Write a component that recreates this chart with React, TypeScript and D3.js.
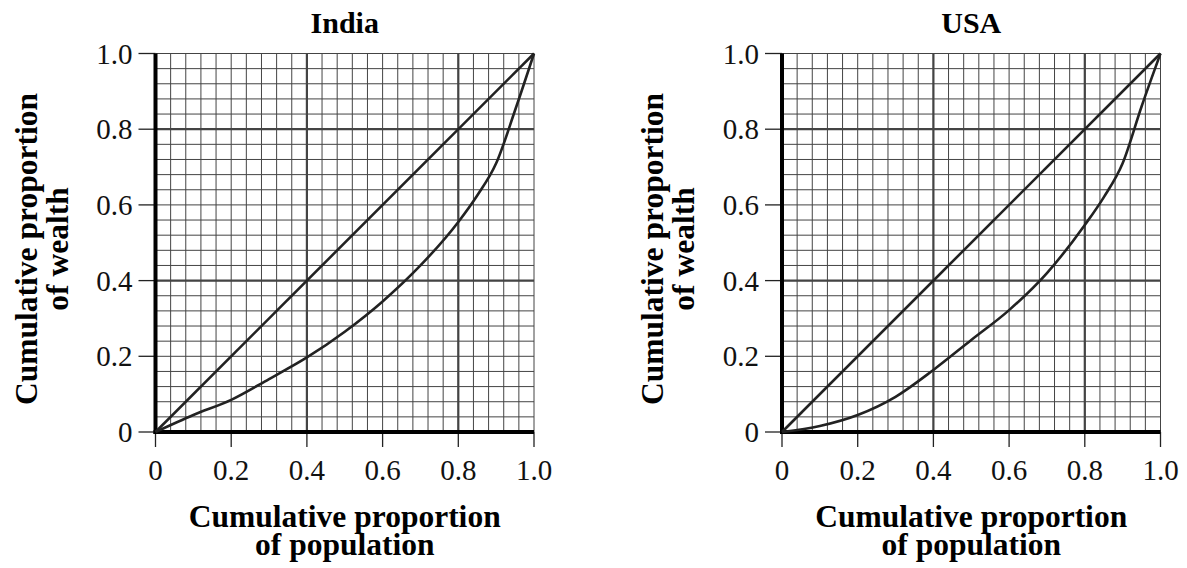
import React from "react";
import * as d3 from "d3";

const population = [0, 0.1, 0.2, 0.3, 0.4, 0.5, 0.6, 0.7, 0.8, 0.85, 0.9, 0.95, 1.0];
const indiaWealth = [0, 0.045, 0.085, 0.14, 0.197, 0.265, 0.345, 0.44, 0.555, 0.625, 0.71, 0.85, 1.0];
const usaWealth = [0, 0.016, 0.045, 0.093, 0.164, 0.243, 0.322, 0.42, 0.547, 0.62, 0.71, 0.86, 1.0];
const equality = [0, 1];
const tickValues = [0, 0.2, 0.4, 0.6, 0.8, 1.0];
const tickLabels = ["0", "0.2", "0.4", "0.6", "0.8", "1.0"];
const panels = [
  { title: "India", wealth: indiaWealth },
  { title: "USA", wealth: usaWealth },
];

const W = 1187;
const H = 568;
const FONT = '"Liberation Serif", "Times New Roman", Times, "DejaVu Serif", serif';
const fontStyle = { fontFamily: FONT };

function Panel({ title, wealth, left }: { title: string; wealth: number[]; left: number }) {
  const size = 378.5;
  const x = d3.scaleLinear().domain([0, 1]).range([left, left + size]);
  const y = d3.scaleLinear().domain([0, 1]).range([432, 432 - size]);
  const minor = d3.range(0, 26).map((i) => i / 25);
  const major = [0.4, 0.8];
  const line = d3
    .line<[number, number]>()
    .x((d) => x(d[0]))
    .y((d) => y(d[1]))
    .curve(d3.curveMonotoneX);
  const pts: [number, number][] = population.map((p, i) => [p, wealth[i]]);
  const eq: [number, number][] = equality.map((v) => [v, v]);
  const cx = (x(0) + x(1)) / 2;
  const cy = 249;
  return (
    <g style={fontStyle}>
      {minor.map((v, i) => (
        <g key={"m" + i}>
          <line x1={x(v)} x2={x(v)} y1={y(0)} y2={y(1)} stroke="#444" strokeWidth={1} />
          <line x1={x(0)} x2={x(1)} y1={y(v)} y2={y(v)} stroke="#444" strokeWidth={1} />
        </g>
      ))}
      {major.map((v, i) => (
        <g key={"M" + i}>
          <line x1={x(v)} x2={x(v)} y1={y(0)} y2={y(1)} stroke="#444" strokeWidth={2.2} />
          <line x1={x(0)} x2={x(1)} y1={y(v)} y2={y(v)} stroke="#444" strokeWidth={2.2} />
        </g>
      ))}
      {tickValues.map((v, i) => (
        <g key={"t" + i}>
          <line x1={x(v)} x2={x(v)} y1={y(0)} y2={y(0) + 15} stroke="#222" strokeWidth={1.3} />
          <line x1={x(0) - 17} x2={x(0)} y1={y(v)} y2={y(v)} stroke="#222" strokeWidth={1.3} />
          <text x={x(v)} y={480} textAnchor="middle" style={fontStyle} fontSize={29} fill="#111">
            {tickLabels[i]}
          </text>
          <text x={x(0) - 23} y={y(v) + 10} textAnchor="end" style={fontStyle} fontSize={29} fill="#111">
            {tickLabels[i]}
          </text>
        </g>
      ))}
      <line x1={x(0)} x2={x(0)} y1={y(0) + 2} y2={y(1)} stroke="#000" strokeWidth={4} />
      <line x1={x(0) - 2} x2={x(1)} y1={y(0)} y2={y(0)} stroke="#000" strokeWidth={4} />
      <path d={line(eq) || ""} fill="none" stroke="#222" strokeWidth={2.6} />
      <path d={line(pts) || ""} fill="none" stroke="#222" strokeWidth={2.6} />
      <text x={cx} y={33} textAnchor="middle" style={fontStyle} fontWeight="bold" fontSize={30} fill="#000">
        {title}
      </text>
      <text x={cx} y={527} textAnchor="middle" style={fontStyle} fontWeight="bold" fontSize={31.5} fill="#000">
        Cumulative proportion
      </text>
      <text x={cx} y={555} textAnchor="middle" style={fontStyle} fontWeight="bold" fontSize={31.5} fill="#000">
        of population
      </text>
      <text
        transform={`translate(${x(0) - 119},${cy}) rotate(-90)`}
        textAnchor="middle"
        style={fontStyle}
        fontWeight="bold"
        fontSize={31.5}
        fill="#000"
      >
        Cumulative proportion
      </text>
      <text
        transform={`translate(${x(0) - 88},${cy}) rotate(-90)`}
        textAnchor="middle"
        style={fontStyle}
        fontWeight="bold"
        fontSize={31.5}
        fill="#000"
      >
        of wealth
      </text>
    </g>
  );
}

export default function App() {
  const lefts = [155.5, 782];
  return (
    <svg
      width={W}
      height={H}
      style={{ position: "absolute", left: 0, top: 0, background: "#fff" }}
    >
      <rect width={W} height={H} fill="#fff" />
      {panels.map((p, i) => (
        <Panel key={p.title} title={p.title} wealth={p.wealth} left={lefts[i]} />
      ))}
    </svg>
  );
}
